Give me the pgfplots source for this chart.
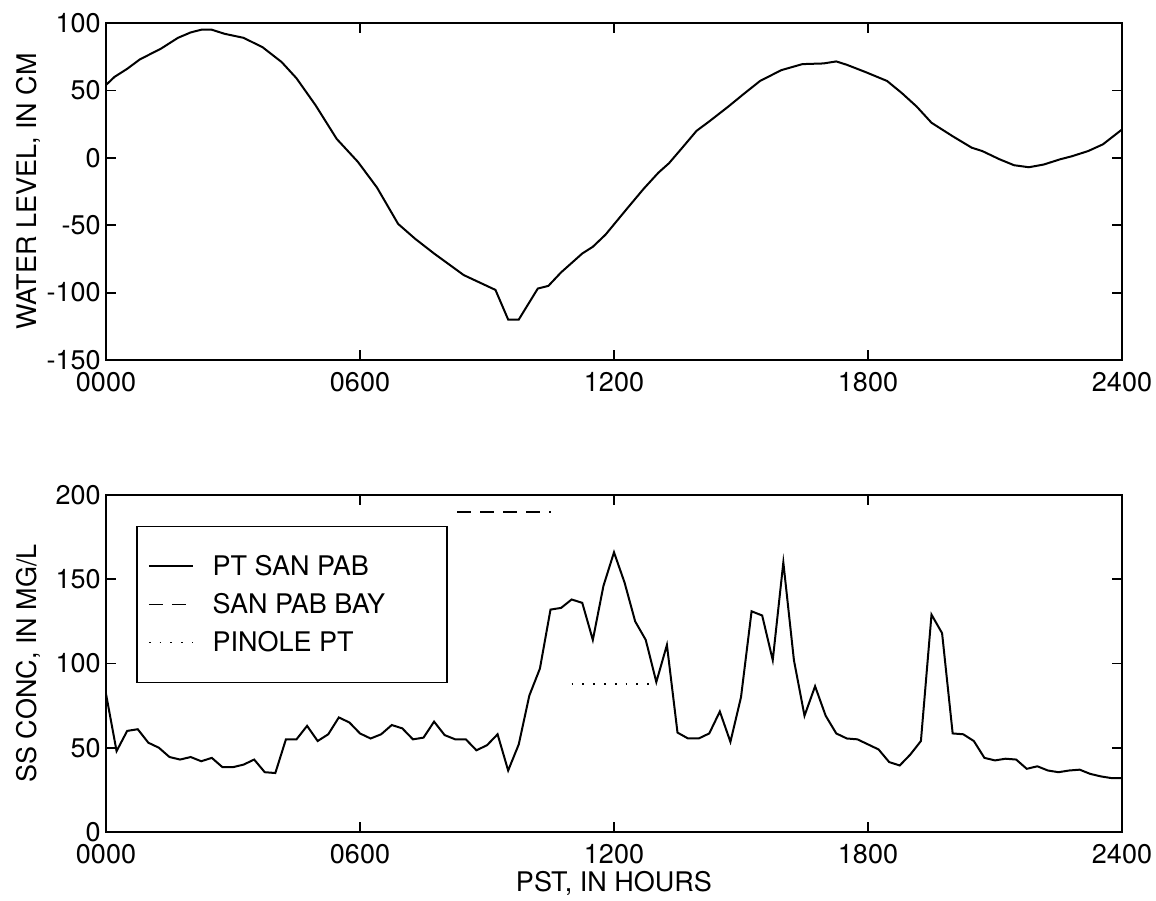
\documentclass[border=0pt]{standalone}
\usepackage{fontspec}
\setmainfont{TeX Gyre Heros}
\usepackage{pgfplots}
\pgfplotsset{compat=1.18}
\begin{document}
\begin{tikzpicture}
\path[use as bounding box] (-53pt,11.5pt) rectangle (525pt,-438.5pt);
\pgfplotsset{
 myaxis/.style={
  scale only axis, width=508pt, height=168.5pt,
  xmin=0, xmax=24, xtick={0,6,12,18,24}, xticklabels={0000,0600,1200,1800,2400},
  tick align=inside, major tick length=5pt, minor tick num=0,
  axis line style={line width=0.9pt, black},
  tick style={line width=0.9pt, black},
  font=\fontsize{13.5}{16}\selectfont,
  xticklabel style={inner ysep=6pt, inner xsep=0pt},
  yticklabel style={inner xsep=2.5pt},
  ylabel style={at={(axis description cs:-0.0763,0.5)}, anchor=center},
 }
}
\begin{axis}[myaxis, at={(0,0)}, anchor=north west,
  ymin=-150, ymax=100, ytick={-150,-100,-50,0,50,100},
  yticklabels={-150,-100,-50,0,50,100},
  ylabel={WATER LEVEL, IN CM}]
\addplot[black, line width=1pt] coordinates {
(0,54) (0.2,60) (0.5,66) (0.8,73) (1.3,81) (1.7,89) (2.0,93) (2.25,95) (2.5,95)
(2.8,92) (3.25,89) (3.7,82) (4.15,71) (4.5,59) (4.95,39) (5.45,14) (5.95,-3)
(6.4,-22) (6.9,-49) (7.3,-60) (7.75,-71) (8.45,-87) (9.2,-98) (9.5,-120) (9.75,-120)
(10.2,-97) (10.45,-95) (10.75,-85) (11.25,-71) (11.5,-66) (11.8,-57) (12.3,-38)
(12.7,-23) (13.05,-11) (13.3,-4) (13.6,7) (13.95,20) (14.25,27) (14.7,38) (15.05,47)
(15.45,57) (15.95,65) (16.45,69.5) (16.95,70) (17.25,71.5) (17.5,69) (17.95,63.5)
(18.45,57) (18.8,48) (19.15,38) (19.5,26) (20.0,16) (20.45,7.5) (20.7,5) (21.1,-1)
(21.45,-5.5) (21.8,-7) (22.15,-5) (22.55,-1) (22.8,1) (23.2,5) (23.55,10) (24.0,21)
};
\end{axis}
\begin{axis}[myaxis, at={(0,-236pt)}, anchor=north west,
  ymin=0, ymax=200, ytick={0,50,100,150,200},
  yticklabels={0,50,100,150,200},
  ylabel={SS CONC, IN MG/L},
  xlabel={PST, IN HOURS},
  xlabel style={at={(axis description cs:0.5,0)}, yshift=-25.5pt, anchor=center},
  legend cell align=left,
  legend image code/.code={\draw[#1] (0pt,0pt) -- (21.9pt,0pt);},
  legend style={at={(axis description cs:0.03,0.909)}, anchor=north west,
    draw=black, line width=0.8pt, fill=white,
    inner xsep=5.25pt, inner ysep=15.25pt, row sep=9.5pt, column sep=9.5pt,
    font=\fontsize{13.5}{16}\selectfont,
    nodes={inner sep=0pt, text height=9.5pt, text depth=0pt}}]
\addplot[black, line width=1pt] coordinates {
(0,82) (0.25,48) (0.5,60) (0.75,61) (1.0,53) (1.25,50) (1.5,44.5) (1.75,43) (2.0,44.5)
(2.25,42) (2.5,44) (2.75,38.5) (3.0,38.5) (3.25,40) (3.5,43) (3.75,35.5) (4.0,35)
(4.25,55) (4.5,55) (4.75,63) (5.0,54) (5.25,58) (5.5,68) (5.75,65) (6.0,58.5)
(6.25,55.5) (6.5,58) (6.75,63.5) (7.0,61.5) (7.25,55) (7.5,56) (7.75,65.5) (8.0,57.5)
(8.25,55) (8.5,55) (8.75,48.5) (9.0,51.5) (9.25,58) (9.5,36.5) (9.75,52) (10.0,81)
(10.25,97) (10.5,132) (10.75,133) (11.0,138) (11.25,136) (11.5,114) (11.75,146)
(12.0,166) (12.25,148) (12.5,125) (12.75,114) (13.0,89) (13.25,111) (13.5,59)
(13.75,55.5) (14.0,55.5) (14.25,58.5) (14.5,71.5) (14.75,53.5) (15.0,80) (15.25,131)
(15.5,128.5) (15.75,102) (16.0,160) (16.25,102) (16.5,69) (16.75,86.5) (17.0,69)
(17.25,58.5) (17.5,55.5) (17.75,55) (18.0,52) (18.25,49) (18.5,41.5) (18.75,39.5)
(19.0,46) (19.25,54) (19.5,129) (19.75,118) (20.0,58.5) (20.25,58) (20.5,54)
(20.75,44) (21.0,42.5) (21.25,43.5) (21.5,43) (21.75,37.5) (22.0,39) (22.25,36.5)
(22.5,35.5) (22.75,36.5) (23.0,37) (23.25,34.5) (23.5,33) (23.75,32) (24.0,32)
};
\addlegendentry{\makebox[112pt][l]{PT SAN PAB}}
\addplot[black, line width=0.9pt, dash pattern=on 7pt off 4.5pt] coordinates {(8.3,190) (10.5,190)};
\addlegendentry{\makebox[112pt][l]{SAN PAB BAY}}
\addplot[black, line width=0.9pt, dash pattern=on 0.9pt off 4.5pt] coordinates {(11.0,88) (13.0,88)};
\addlegendentry{\makebox[112pt][l]{PINOLE PT}}
\end{axis}
\end{tikzpicture}
\end{document}
